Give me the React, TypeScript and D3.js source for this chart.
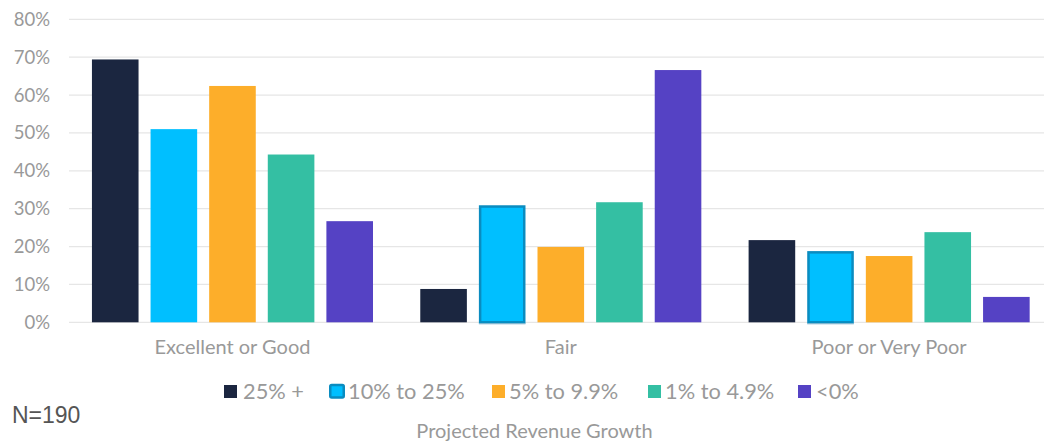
import React from "react";
import * as d3 from "d3";

const categories = ["Excellent or Good", "Fair", "Poor or Very Poor"];
const seriesNames = ["25% +", "10% to 25%", "5% to 9.9%", "1% to 4.9%", "<0%"];
const seriesColors = ["#1b2640", "#00bfff", "#fdae2a", "#34bfa3", "#5542c4"];
const excellentValues = [69.4, 51.0, 62.4, 44.3, 26.7];
const fairValues = [8.8, 30.9, 19.9, 31.7, 66.6];
const poorValues = [21.7, 18.8, 17.5, 23.8, 6.7];
const yTicks = [0, 10, 20, 30, 40, 50, 60, 70, 80];
const highlighted = [
  [false, false, false, false, false],
  [false, true, false, false, false],
  [false, true, false, false, false],
];

const values = [excellentValues, fairValues, poorValues];
const W = 1044;
const H = 442;
const FONT = "Lato, 'Open Sans', sans-serif";

export default function App() {
  const x0 = d3.scaleBand<string>().domain(categories).range([68.3, 1053.3]).paddingInner(0.144).paddingOuter(0.072);
  const x1 = d3.scaleBand<string>().domain(seriesNames).range([0, x0.bandwidth()]).paddingInner(0.205);
  const y = d3.scaleLinear().domain([0, 80]).range([322.3, 19.3]);
  const legendX = [224, 329, 492, 648, 798];
  const legendTextX = [243, 348, 509, 665, 816];

  return (
    <svg width={W} height={H} style={{ position: "absolute", left: 0, top: 0, background: "#fff" }}>
      {yTicks.map((t) => (
        <g key={t}>
          <line x1={69} x2={W} y1={y(t)} y2={y(t)} stroke="#e6e6e6" strokeWidth={1.3} />
          <text x={50} y={y(t)} dy="0.35em" textAnchor="end" fontFamily={FONT} fontSize={18.5} fill="#999">
            {t}%
          </text>
        </g>
      ))}
      {categories.map((c, ci) => (
        <g key={c} transform={`translate(${x0(c)},0)`}>
          {values[ci].map((v, si) => {
            const hl = highlighted[ci][si];
            const bx = x1(seriesNames[si])!;
            const bw = x1.bandwidth();
            return hl ? (
              <g key={si}>
                <rect x={bx + 1.25} y={y(v) + 1.25} width={bw - 2.5} height={y(0) - y(v) - 1.25} fill={seriesColors[si]} stroke="#0a8cc0" strokeWidth={2.5} />
                <line x1={bx} x2={bx + bw} y1={y(0) + 1.5} y2={y(0) + 1.5} stroke="#7fb6cf" strokeWidth={1} />
              </g>
            ) : (
              <rect key={si} x={bx} y={y(v)} width={bw} height={y(0) - y(v)} fill={seriesColors[si]} />
            );
          })}
          <text x={x0.bandwidth() / 2} y={354} textAnchor="middle" fontFamily={FONT} fontSize={20} fill="#999">
            {c}
          </text>
        </g>
      ))}
      {seriesNames.map((s, i) => (
        <g key={s}>
          {i === 1 ? (
            <rect x={legendX[i] + 1.25} y={385} width={13.5} height={12.5} rx={1.5} fill={seriesColors[i]} stroke="#0a8cc0" strokeWidth={2.5} />
          ) : (
            <rect x={legendX[i]} y={385} width={13} height={13} fill={seriesColors[i]} />
          )}
          <text x={legendTextX[i]} y={398.5} fontFamily={FONT} fontSize={21.8} fill="#999">
            {s}
          </text>
        </g>
      ))}
      <text x={12} y={423} fontFamily="'Liberation Sans', Arial, sans-serif" fontSize={23} fill="#555">
        N=190
      </text>
      <text x={534.5} y={438} textAnchor="middle" fontFamily={FONT} fontSize={20} fill="#999">
        Projected Revenue Growth
      </text>
    </svg>
  );
}
